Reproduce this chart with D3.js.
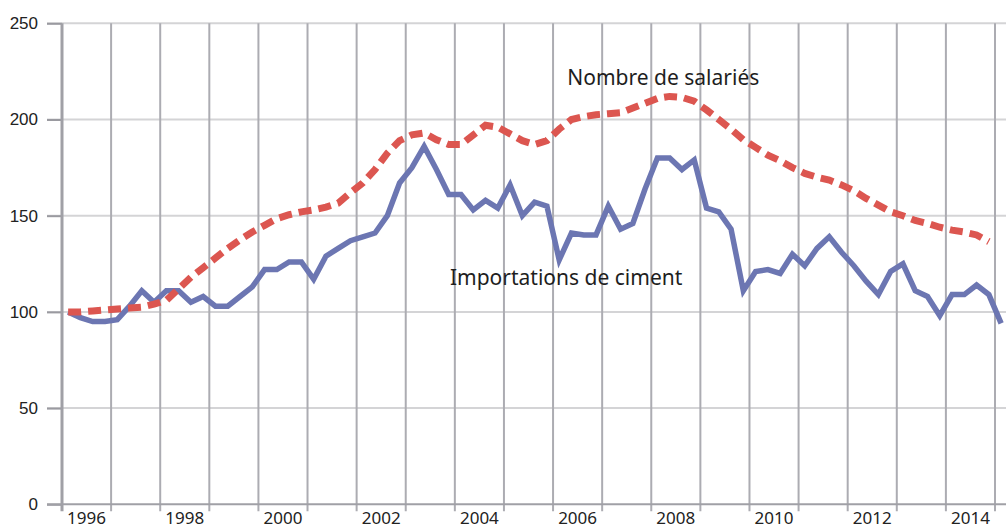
<!DOCTYPE html>
<meta charset="utf-8">
<style>
    body {
        margin: 0;
        background: #fff;
        font-family: "Noto Sans", Arial, sans-serif;
    }

    .tick-label {
        fill: #222;
        font-size: 17px;
    }

    .note {
        fill: #1e1e1e;
        font-size: 21px;
    }
</style>

<body>
    <svg id="chart" width="1006" height="529"></svg>

    <script src="https://cdnjs.cloudflare.com/ajax/libs/d3/7.8.5/d3.min.js"></script>
    <script>
        // quarterly values, 1996 Q1 onwards (index 1996 Q1 = 100)
        var importations = [
            100, 97, 95, 95,
            96, 103, 111, 105,
            111, 111, 105, 108,
            103, 103, 108, 113,
            122, 122, 126, 126,
            117, 129, 133, 137,
            139, 141, 150, 167,
            175, 186, 174, 161,
            161, 153, 158, 154,
            166, 150, 157, 155,
            127, 141, 140, 140,
            155, 143, 146, 164,
            180, 180, 174, 179,
            154, 152, 143, 111,
            121, 122, 120, 130,
            124, 133, 139, 131,
            124, 116, 109, 121,
            125, 111, 108, 98,
            109, 109, 114, 109,
            94
        ];

        var salaries = [
            100, 100, 100.5, 101,
            101.5, 102, 102.5, 104,
            106, 112, 118, 123,
            128, 133, 137.5, 141.5,
            145, 148.5, 150.5, 152,
            153, 154.5, 156.5, 162,
            167, 174, 182.5, 189,
            192, 193, 189.5, 187,
            187, 192, 197, 196,
            192.5, 189, 187, 189,
            195, 200, 201.5, 202.5,
            203, 203.5, 206, 208.5,
            211, 212, 211.5, 209.5,
            205, 200, 195, 189.5,
            185.5, 181.5, 178.5, 175,
            172, 170, 168.5, 166,
            163, 159, 155.5, 152,
            150, 147.5, 146, 144,
            142.5, 141.5, 140, 136.5
        ];

        var years = d3.range(1996, 2016);
        var yearLabels = ["1996", "1998", "2000", "2002", "2004", "2006", "2008", "2010", "2012", "2014"];
        var yTicks = [0, 50, 100, 150, 200, 250];

        var notes = [
            { text: "Nombre de salariés", t: 2006.29, v: 218 },
            { text: "Importations de ciment", t: 2003.9, v: 114 }
        ];

        var svg = d3.select("#chart"),
            width = +svg.attr("width"),
            height = +svg.attr("height");

        var x = d3.scaleLinear().domain([1996, 2015]).range([62, 995]);
        var y = d3.scaleLinear().domain([0, 250]).range([504.3, 23.3]);

        function quarterTime(i) { return 1996 + (i + 0.5) / 4; }

        // horizontal grid
        svg.append("g")
            .selectAll("line")
            .data(yTicks.filter(function (d) { return d > 0; }))
            .enter().append("line")
            .attr("x1", 47).attr("x2", width)
            .attr("y1", function (d) { return y(d); })
            .attr("y2", function (d) { return y(d); })
            .style("stroke", "#d4d4d6")
            .style("stroke-width", 2);

        // vertical grid, with the tick marks below the axis
        svg.append("g")
            .selectAll("line")
            .data(years.slice(1))
            .enter().append("line")
            .attr("x1", function (d) { return x(d); })
            .attr("x2", function (d) { return x(d); })
            .attr("y1", y(250))
            .attr("y2", y(0) + 7)
            .style("stroke", "#acacb2")
            .style("stroke-width", 2);

        // y axis
        var yAxis = svg.append("g")
            .attr("transform", "translate(" + x(1996) + ",0)")
            .call(d3.axisLeft(y).tickValues(yTicks).tickSize(15).tickPadding(9));
        yAxis.select(".domain").remove();
        yAxis.selectAll(".tick line").style("stroke", "#9a9aa0").style("stroke-width", 2);
        yAxis.selectAll(".tick text")
            .attr("class", "tick-label")
            .style("font-family", null)
            .style("font-size", null)
            .attr("fill", null);

        svg.append("line")
            .attr("x1", x(1996)).attr("x2", x(1996))
            .attr("y1", y(250)).attr("y2", y(0) + 7)
            .style("stroke", "#a0a0a6")
            .style("stroke-width", 3);

        svg.append("line")
            .attr("x1", 47).attr("x2", width)
            .attr("y1", y(0)).attr("y2", y(0))
            .style("stroke", "#a0a0a6")
            .style("stroke-width", 2);

        // x labels, centred in the year band
        svg.append("g")
            .selectAll("text")
            .data(yearLabels)
            .enter().append("text")
            .attr("class", "tick-label")
            .attr("x", function (d) { return x(+d + 0.5); })
            .attr("y", 524)
            .attr("text-anchor", "middle")
            .text(function (d) { return d; });

        var line = d3.line()
            .x(function (d, i) { return x(quarterTime(i)); })
            .y(function (d) { return y(d); });

        svg.append("path")
            .datum(importations)
            .attr("d", line)
            .style("fill", "none")
            .style("stroke", "#6c76b2")
            .style("stroke-width", 5.5)
            .style("stroke-linejoin", "miter");

        svg.append("path")
            .datum(salaries)
            .attr("d", line)
            .style("fill", "none")
            .style("stroke", "#dc5650")
            .style("stroke-width", 7)
            .style("stroke-dasharray", "13,7");

        svg.append("g")
            .selectAll("text")
            .data(notes)
            .enter().append("text")
            .attr("class", "note")
            .attr("x", function (d) { return x(d.t); })
            .attr("y", function (d) { return y(d.v); })
            .text(function (d) { return d.text; });
    </script>
</body>
